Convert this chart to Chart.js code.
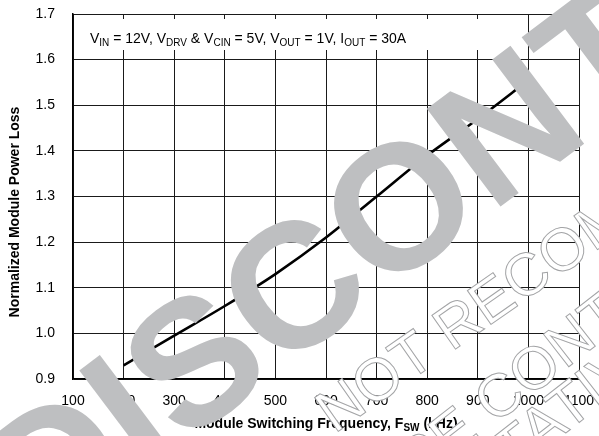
<!DOCTYPE html>
<html>
<head>
<meta charset="utf-8">
<script src="https://cdn.jsdelivr.net/npm/chart.js@4.4.1/dist/chart.umd.min.js"></script>
<style>
  html, body { margin: 0; padding: 0; background: #ffffff; }
  #wrap { width: 599px; height: 436px; position: relative; }
</style>
</head>
<body>
<div id="wrap"><canvas id="c" width="599" height="436"></canvas></div>
<script>
// Normalized module power loss vs. switching frequency
const frequencies = [200, 300, 400, 500, 600, 700, 800, 900, 1000];
const powerLoss   = [0.93, 0.995, 1.06, 1.13, 1.21, 1.30, 1.39, 1.47, 1.555];
const xTickValues = [100, 200, 300, 400, 500, 600, 700, 800, 900, 1000, 1100];
const yTickValues = [0.9, 1.0, 1.1, 1.2, 1.3, 1.4, 1.5, 1.6, 1.7];

// Test-condition caption, with subscript runs
const conditionText = [
  ['V', false], ['IN', true], [' = 12V, V', false], ['DRV', true],
  [' & V', false], ['CIN', true], [' = 5V, V', false], ['OUT', true],
  [' = 1V, I', false], ['OUT', true], [' = 30A', false]
];
const xTitleText = [['Module Switching Frequency, F', false], ['SW', true], [' (kHz)', false]];
const yTitleText = 'Normalized Module Power Loss';

// Status stamp across the page
const stampText = 'DISCONTINUED';
const noticeLines = ['NOT RECOMMENDED FOR NEW DESIGNS', 'PLEASE CONTACT', 'SALES REPRESENTATIVE'];

const FONT = '"Liberation Sans", Arial, Helvetica, sans-serif';

function runsWidth(ctx, runs, size, subSize, weight) {
  let w = 0;
  for (const [t, sub] of runs) {
    ctx.font = `${weight} ${sub ? subSize : size}px ${FONT}`;
    w += ctx.measureText(t).width;
  }
  return w;
}
function drawRuns(ctx, runs, x, y, size, subSize, weight, subDrop) {
  ctx.textAlign = 'left';
  ctx.textBaseline = 'alphabetic';
  for (const [t, sub] of runs) {
    ctx.font = `${weight} ${sub ? subSize : size}px ${FONT}`;
    ctx.fillText(t, x, sub ? y + subDrop : y);
    x += ctx.measureText(t).width;
  }
}

// Draw a rotated line of text so that the letter at `idx` is centred on (cx, cy)
function stampLine(ctx, text, idx, cx, cy, angleDeg, font, capH, mode) {
  ctx.save();
  ctx.font = font;
  const pre = ctx.measureText(text.slice(0, idx)).width;
  const lw = ctx.measureText(text[idx]).width;
  ctx.translate(cx, cy);
  ctx.rotate(-angleDeg * Math.PI / 180);
  ctx.textAlign = 'left';
  ctx.textBaseline = 'alphabetic';
  const x0 = -(pre + lw / 2), y0 = capH / 2;
  if (mode === 'fill') {
    ctx.fillText(text, x0, y0);
  } else {
    ctx.fillStyle = '#ffffff';
    ctx.fillText(text, x0, y0);
    ctx.strokeText(text, x0, y0);
  }
  ctx.restore();
}

const decorPlugin = {
  id: 'decor',
  beforeDatasetsDraw(chart) {
    const { ctx, chartArea: a } = chart;
    ctx.save();
    // caption panel
    ctx.fillStyle = '#ffffff';
    ctx.fillRect(a.left + 1, a.top + 5, 428, 31);
    ctx.fillStyle = '#000000';
    drawRuns(ctx, conditionText, a.left + 17, a.top + 29, 14, 10, 'normal', 3);
    ctx.restore();
  },
  afterDraw(chart) {
    const { ctx, chartArea: a } = chart;
    ctx.save();
    ctx.fillStyle = '#000000';
    // x-axis title
    const w = runsWidth(ctx, xTitleText, 14, 10, 'bold');
    drawRuns(ctx, xTitleText, (a.left + a.right) / 2 - w / 2, 428, 14, 10, 'bold', 3);
    // y-axis title
    ctx.translate(18.5, 212);
    ctx.rotate(-Math.PI / 2);
    ctx.font = `bold 14px ${FONT}`;
    ctx.textAlign = 'center';
    ctx.textBaseline = 'alphabetic';
    ctx.fillText(yTitleText, 0, 0);
    ctx.restore();

    // outlined notice text
    ctx.save();
    ctx.strokeStyle = '#a3a4a6';
    ctx.lineWidth = 1;
    const nf = `normal 60px ${FONT}`;
    stampLine(ctx, noticeLines[0], noticeLines[0].indexOf('R'), 457, 322, 35, nf, 43, 'outline');
    stampLine(ctx, noticeLines[1], noticeLines[1].indexOf('C'), 498, 395, 38, nf, 43, 'outline');
    stampLine(ctx, noticeLines[2], noticeLines[2].indexOf('ATI'), 545, 422, 38, nf, 43, 'outline');
    ctx.restore();

    // large grey stamp
    ctx.save();
    ctx.fillStyle = '#bebfc1';
    stampLine(ctx, stampText, 3, 291, 285, 37, `bold 178px ${FONT}`, 127, 'fill');
    ctx.restore();
  }
};

new Chart(document.getElementById('c'), {
  type: 'line',
  data: {
    datasets: [{
      data: frequencies.map((f, i) => ({ x: f, y: powerLoss[i] })),
      borderColor: '#000000',
      borderWidth: 2.6,
      pointRadius: 0,
      fill: false,
      cubicInterpolationMode: 'monotone'
    }]
  },
  options: {
    responsive: false,
    animation: false,
    devicePixelRatio: 1,
    layout: { padding: { left: 0, top: 14, right: 20, bottom: 0 } },
    plugins: { legend: { display: false }, tooltip: { enabled: false } },
    scales: {
      x: {
        type: 'linear', min: 100, max: 1100,
        afterBuildTicks: s => { s.ticks = xTickValues.map(v => ({ value: v })); },
        afterFit: s => { s.height = 57; s.paddingLeft = 0; s.paddingRight = 0; },
        grid: { color: '#1a1a1a', lineWidth: 1, drawTicks: false },
        border: { color: '#000000', width: 1.5 },
        ticks: { color: '#000000', padding: 14, font: { family: FONT, size: 14 }, maxRotation: 0, autoSkip: false,
                 callback: v => String(v) }
      },
      y: {
        type: 'linear', min: 0.9, max: 1.7,
        afterBuildTicks: s => { s.ticks = yTickValues.map(v => ({ value: v })); },
        afterFit: s => { s.width = 73; s.paddingTop = 0; s.paddingBottom = 0; },
        grid: { color: '#1a1a1a', lineWidth: 1, drawTicks: false },
        border: { color: '#000000', width: 1.5 },
        ticks: { color: '#000000', padding: 18, font: { family: FONT, size: 14 },
                 callback: v => Number(v).toFixed(1) }
      }
    }
  },
  plugins: [decorPlugin]
});
</script>
</body>
</html>
